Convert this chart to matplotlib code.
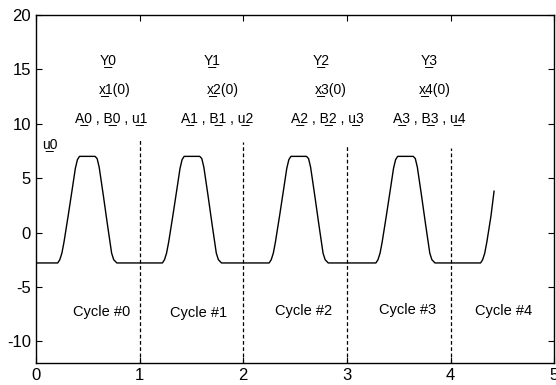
import matplotlib
matplotlib.use('Agg')
import matplotlib.pyplot as plt

plt.rcParams['font.family'] = ['Liberation Sans', 'DejaVu Sans']
plt.rcParams['axes.unicode_minus'] = False

# trace
t = [0.00, 0.21, 0.23, 0.25, 0.27, 0.31, 0.35, 0.38, 0.40, 0.42, 0.57, 0.59, 0.61, 0.65, 0.69, 0.73, 0.75, 0.78,
     1.22, 1.24, 1.26, 1.28, 1.32, 1.36, 1.39, 1.41, 1.43, 1.58, 1.60, 1.62, 1.66, 1.70, 1.74, 1.76, 1.79,
     2.25, 2.27, 2.29, 2.31, 2.35, 2.39, 2.42, 2.44, 2.46, 2.61, 2.63, 2.65, 2.69, 2.73, 2.77, 2.79, 2.82,
     3.28, 3.30, 3.32, 3.34, 3.38, 3.42, 3.45, 3.47, 3.49, 3.64, 3.66, 3.68, 3.72, 3.76, 3.80, 3.82, 3.85,
     4.29, 4.31, 4.33, 4.35, 4.39, 4.42]
u = [-2.8, -2.8, -2.5, -1.9, -0.9, 1.5, 4.0, 5.9, 6.7, 7.0, 7.0, 6.8, 6.0, 3.4, 0.7, -1.9, -2.5, -2.8,
     -2.8, -2.5, -1.9, -0.9, 1.5, 4.0, 5.9, 6.7, 7.0, 7.0, 6.8, 6.0, 3.4, 0.7, -1.9, -2.5, -2.8,
     -2.8, -2.5, -1.9, -0.9, 1.5, 4.0, 5.9, 6.7, 7.0, 7.0, 6.8, 6.0, 3.4, 0.7, -1.9, -2.5, -2.8,
     -2.8, -2.5, -1.9, -0.9, 1.5, 4.0, 5.9, 6.7, 7.0, 7.0, 6.8, 6.0, 3.4, 0.7, -1.9, -2.5, -2.8,
     -2.8, -2.5, -1.9, -0.9, 1.5, 3.8]

# cycle boundaries (dashed)
bound_x = [1, 2, 3, 4]
bound_top = [8.6, 8.3, 8.0, 7.8]

UL = '\u0332'  # combining underline
y_labels = ['Y' + UL + '0', 'Y' + UL + '1', 'Y' + UL + '2', 'Y' + UL + '3']
y_pos = [0.70, 1.70, 2.75, 3.79]
x0_labels = ['x' + UL + '1(0)', 'x' + UL + '2(0)', 'x' + UL + '3(0)', 'x' + UL + '4(0)']
x0_pos = [0.76, 1.80, 2.84, 3.85]
ab_labels = ['A' + UL + '%d , B' % i + UL + '%d , u' % i + UL + '%d' % (i + 1) for i in range(4)]
ab_pos = [0.73, 1.75, 2.81, 3.79]
cyc_labels = ['Cycle #0', 'Cycle #1', 'Cycle #2', 'Cycle #3', 'Cycle #4']
cyc_pos = [0.63, 1.57, 2.58, 3.59, 4.51]
cyc_y = [-7.3, -7.4, -7.2, -7.1, -7.2]

fig = plt.figure(figsize=(5.56, 3.85), dpi=100)
ax = fig.add_axes([0.0647, 0.0571, 0.932, 0.904])

ax.plot(t, u, color='black', lw=1.0)
for bx, btop in zip(bound_x, bound_top):
    ax.plot([bx, bx], [-12, btop], color='black', lw=0.9, ls=(0, (3, 2)))

for lab, px in zip(y_labels, y_pos):
    ax.text(px, 15.9, lab, ha='center', va='center', fontsize=10)
for lab, px in zip(x0_labels, x0_pos):
    ax.text(px, 13.1, lab, ha='center', va='center', fontsize=10)
for lab, px in zip(ab_labels, ab_pos):
    ax.text(px, 10.5, lab, ha='center', va='center', fontsize=10)
ax.text(0.06, 8.1, 'u' + UL + '0', ha='left', va='center', fontsize=10)
for lab, px, py in zip(cyc_labels, cyc_pos, cyc_y):
    ax.text(px, py, lab, ha='center', va='center', fontsize=10.5)

ax.set_xlim(0, 5)
ax.set_ylim(-12, 20)
ax.set_xticks([0, 1, 2, 3, 4, 5])
ax.set_yticks([-10, -5, 0, 5, 10, 15, 20])
ax.tick_params(direction='in', top=True, right=True, labelsize=12, length=4)
for s in ax.spines.values():
    s.set_linewidth(1.0)

fig.savefig('out.png', dpi=100)
